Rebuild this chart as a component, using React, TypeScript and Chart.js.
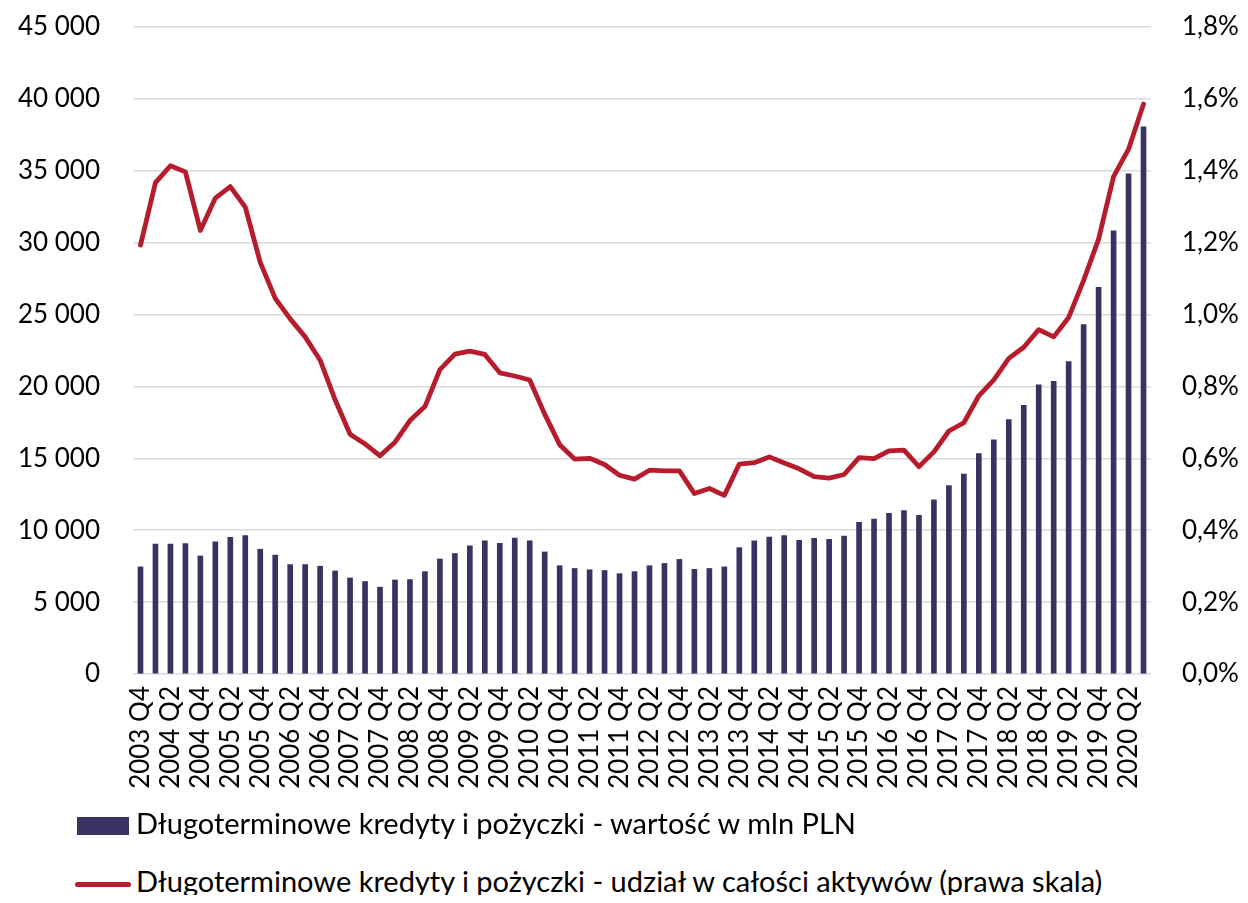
import React, { useEffect, useRef } from "react";
import { Chart, registerables } from "chart.js";

Chart.register(...registerables);

const quarters: string[] = [
  "2003 Q4",
  "2004 Q1", "2004 Q2", "2004 Q3", "2004 Q4",
  "2005 Q1", "2005 Q2", "2005 Q3", "2005 Q4",
  "2006 Q1", "2006 Q2", "2006 Q3", "2006 Q4",
  "2007 Q1", "2007 Q2", "2007 Q3", "2007 Q4",
  "2008 Q1", "2008 Q2", "2008 Q3", "2008 Q4",
  "2009 Q1", "2009 Q2", "2009 Q3", "2009 Q4",
  "2010 Q1", "2010 Q2", "2010 Q3", "2010 Q4",
  "2011 Q1", "2011 Q2", "2011 Q3", "2011 Q4",
  "2012 Q1", "2012 Q2", "2012 Q3", "2012 Q4",
  "2013 Q1", "2013 Q2", "2013 Q3", "2013 Q4",
  "2014 Q1", "2014 Q2", "2014 Q3", "2014 Q4",
  "2015 Q1", "2015 Q2", "2015 Q3", "2015 Q4",
  "2016 Q1", "2016 Q2", "2016 Q3", "2016 Q4",
  "2017 Q1", "2017 Q2", "2017 Q3", "2017 Q4",
  "2018 Q1", "2018 Q2", "2018 Q3", "2018 Q4",
  "2019 Q1", "2019 Q2", "2019 Q3", "2019 Q4",
  "2020 Q1", "2020 Q2", "2020 Q3",
];

const loansValue: number[] = [
  7450, 9040, 9040, 9070, 8210, 9200, 9510, 9620, 8680, 8270,
  7610, 7610, 7500, 7170, 6680, 6430, 6040, 6540, 6570, 7120,
  8000, 8380, 8920, 9260, 9090, 9450, 9260, 8490, 7530, 7340,
  7250, 7200, 6980, 7120, 7530, 7690, 7970, 7280, 7340, 7450,
  8790, 9260, 9530, 9620, 9300, 9430, 9370, 9590, 10550, 10770,
  11180, 11370, 11040, 12120, 13100, 13900, 15330, 16290, 17690, 18680,
  20110, 20360, 21730, 24310, 26900, 30820, 34780, 38050,
];

const loansShare: number[] = [
  1.193, 1.367, 1.414, 1.397, 1.234, 1.324, 1.356, 1.299, 1.145, 1.045,
  0.988, 0.938, 0.873, 0.763, 0.667, 0.64, 0.607, 0.645, 0.705, 0.744,
  0.847, 0.89, 0.898, 0.889, 0.838, 0.829, 0.818, 0.723, 0.638, 0.598,
  0.6, 0.583, 0.553, 0.542, 0.567, 0.565, 0.565, 0.502, 0.516, 0.497,
  0.584, 0.588, 0.604, 0.587, 0.571, 0.549, 0.545, 0.555, 0.602, 0.599,
  0.621, 0.623, 0.577, 0.618, 0.676, 0.699, 0.774, 0.818, 0.878, 0.909,
  0.958, 0.938, 0.992, 1.095, 1.21, 1.384, 1.46, 1.586,
];

const barLabel = "Długoterminowe kredyty i pożyczki - wartość w mln PLN";
const lineLabel = "Długoterminowe kredyty i pożyczki - udział w całości aktywów (prawa skala)";

const BAR_COLOR = "#3c3163";
const LINE_COLOR = "#b71c2c";
const FONT = "Lato, 'Open Sans', sans-serif";

export default function App() {
  const ref = useRef<HTMLCanvasElement | null>(null);

  useEffect(() => {
    if (!ref.current) return;
    const chart = new Chart(ref.current, {
      data: {
        labels: quarters,
        datasets: [
          {
            type: "line",
            label: lineLabel,
            data: loansShare,
            yAxisID: "y1",
            borderColor: LINE_COLOR,
            backgroundColor: LINE_COLOR,
            borderWidth: 4.8,
            pointRadius: 0,
            tension: 0,
            borderCapStyle: "round",
            borderJoinStyle: "round",
            order: 0,
          },
          {
            type: "bar",
            label: barLabel,
            data: loansValue,
            yAxisID: "y",
            backgroundColor: BAR_COLOR,
            barThickness: 5,
            order: 1,
          },
        ],
      },
      options: {
        animation: false,
        responsive: false,
        maintainAspectRatio: false,
        layout: { padding: { top: 0, left: 0, right: 0, bottom: 0 } },
        plugins: {
          legend: { display: false },
          tooltip: { enabled: false },
        },
        scales: {
          x: {
            grid: { display: false, drawTicks: false },
            border: { display: false },
            ticks: {
              autoSkip: false,
              maxRotation: 90,
              minRotation: 90,
              padding: 12,
              color: "#000",
              font: { family: FONT, size: 26 },
              callback: (_v: any, i: number) => (i % 2 === 0 ? quarters[i] : ""),
            },
            afterFit: (s: any) => {
              s.height = 134;
              s.paddingLeft = 0;
              s.paddingRight = 0;
            },
          },
          y: {
            position: "left",
            min: 0,
            max: 45000,
            grid: { color: "#d9d9d9", lineWidth: 1.5, drawTicks: false },
            border: { display: false },
            ticks: {
              stepSize: 5000,
              padding: 33,
              color: "#000",
              font: { family: FONT, size: 26 },
              callback: (v: any) =>
                Number(v).toFixed(0).replace(/\B(?=(\d{3})+(?!\d))/g, " "),
            },
            afterFit: (s: any) => {
              s.width = 125;
              s.paddingTop = 19;
              s.paddingBottom = 0;
            },
          },
          y1: {
            position: "right",
            min: 0,
            max: 1.8,
            grid: { display: false, drawTicks: false },
            border: { display: false },
            ticks: {
              stepSize: 0.2,
              padding: 31,
              color: "#000",
              font: { family: FONT, size: 26 },
              callback: (v: any) => Number(v).toFixed(1).replace(".", ",") + "%",
            },
            afterFit: (s: any) => {
              s.width = 89;
              s.paddingTop = 19;
              s.paddingBottom = 0;
            },
          },
        },
      },
    } as any);
    return () => chart.destroy();
  }, []);

  const textStyle: React.CSSProperties = {
    position: "absolute",
    left: 128,
    fontFamily: FONT,
    fontSize: 29,
    color: "#000",
    whiteSpace: "nowrap",
    lineHeight: "29px",
  };

  return (
    <div
      style={{
        position: "relative",
        width: 1232,
        height: 887,
      }}
    >
      <canvas ref={ref} width={1232} height={800} style={{ display: "block" }} />
      <div
        style={{
          position: "absolute",
          left: 69,
          top: 809,
          width: 52,
          height: 18,
          background: BAR_COLOR,
        }}
      />
      <div style={{ ...textStyle, top: 800 }}>{barLabel}</div>
      <div
        style={{
          position: "absolute",
          left: 67,
          top: 874,
          width: 56,
          height: 5,
          borderRadius: 3,
          background: LINE_COLOR,
        }}
      />
      <div style={{ ...textStyle, top: 858 }}>{lineLabel}</div>
    </div>
  );
}
